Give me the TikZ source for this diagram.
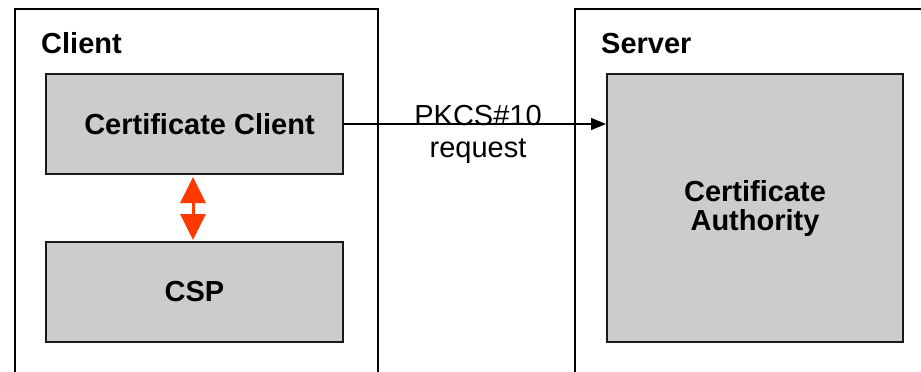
\documentclass[tikz,border=0pt]{standalone}
\usepackage{fontspec}
\setmainfont{Liberation Sans}
\usetikzlibrary{arrows.meta}
\definecolor{boxgray}{HTML}{CCCCCC}
\definecolor{linkred}{HTML}{FF3A00}
\tikzset{
  frame/.style={draw=black, line width=1.5pt, fill=white, rectangle, inner sep=0pt},
  module/.style={draw=black!90, line width=2pt, fill=boxgray, rectangle, inner sep=0pt,
    font=\fontsize{29}{28}\selectfont\bfseries, align=center},
  heading/.style={anchor=base west, inner sep=0pt, font=\fontsize{29}{32}\selectfont\bfseries},
  msg/.style={anchor=base, inner sep=0pt, font=\fontsize{29}{32}\selectfont},
  flow/.style={-{Triangle[width=12pt,length=15pt]}, line width=1.3pt},
  link/.style={{Triangle[width=25pt,length=26pt]}-{Triangle[width=25pt,length=26pt]},
    draw=linkred, line width=3pt},
}
\begin{document}
\begin{tikzpicture}[x=1pt,y=-1pt]
  \useasboundingbox (0,0) rectangle (921,372);
  \clip (0,0) rectangle (921,372);
  % machines (open below the visible area)
  \node[frame, minimum width=363pt, minimum height=380pt, anchor=north west] (client) at (14,8) {};
  \node[frame, minimum width=370pt, minimum height=380pt, anchor=north west] (server) at (574,8) {};
  \node[heading] (clientlbl) at (41,53) {Client};
  \node[heading] (serverlbl) at (601,53) {Server};
  % components
  \node[module, minimum width=297pt, minimum height=100pt] (cc) at (194.5,124) {\hspace*{10pt}Certificate Client};
  \node[module, minimum width=297pt, minimum height=100pt] (csp) at (194.5,292) {CSP};
  \node[module, minimum width=296pt, minimum height=268pt] (ca) at (755,208) {Certificate\\[1pt]Authority};
  % connections
  \draw[flow] (cc.east) -- (ca.west |- cc.east);
  \node[msg] (req1) at (478,125) {PKCS\#10};
  \node[msg] (req2) at (478,157) {request};
  \coordinate (up) at (193,177);
  \coordinate (down) at (193,240);
  \draw[link] (up) -- (down);
\end{tikzpicture}
\end{document}
